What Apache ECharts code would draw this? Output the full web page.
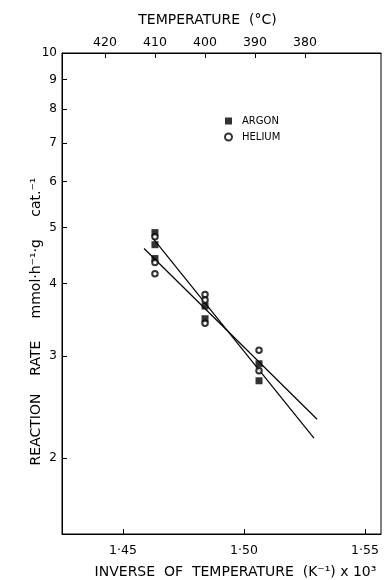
<!DOCTYPE html>
<html>
<head>
<meta charset="utf-8">
<script src="https://cdn.jsdelivr.net/npm/echarts@6/dist/echarts.min.js"></script>
<style>
  html, body { margin: 0; padding: 0; background: #fff; }
  #chart { width: 386px; height: 580px; }
</style>
</head>
<body>
<div id="chart"></div>
<script>
// inverse temperature (1/K x 10^3) and reaction rate
const argonX = [1.4632, 1.4632, 1.4632, 1.4839, 1.4839, 1.5062, 1.5062]
const argonRate = [4.90, 4.67, 4.42, 3.66, 3.48, 2.91, 2.72]
const heliumX = [1.4632, 1.4632, 1.4632, 1.4839, 1.4839, 1.4839, 1.5062, 1.5062]
const heliumRate = [4.82, 4.35, 4.16, 3.83, 3.75, 3.42, 3.07, 2.83]

// fitted lines (end points)
const argonFitX = [1.4624, 1.5289]
const argonFitRate = [4.79, 2.165]
const heliumFitX = [1.4587, 1.5302]
const heliumFitRate = [4.60, 2.335]

// tick labels
const invTempTicks = [1.45, 1.50, 1.55]
const tempTicks = [420, 410, 400, 390, 380]
const rateTicks = [2, 3, 4, 5, 6, 7, 8, 9, 10]

const font = 'DejaVu Sans'
const pairs = (xs, ys) => xs.map((x, i) => [x, ys[i]])

const chart = echarts.init(document.getElementById('chart'))

const option = {
  animation: false,
  textStyle: { fontFamily: font, color: '#000' },
  grid: {
    left: 62,
    right: 5,
    top: 53,
    bottom: 46,
    outerBoundsMode: 'none',
    show: true,
    borderColor: '#000',
    borderWidth: 1,
  },
  legend: {
    orient: 'vertical',
    left: 219,
    top: 111,
    itemWidth: 7,
    itemHeight: 7,
    itemGap: 6,
    textStyle: { fontFamily: font, fontSize: 10, color: '#000', padding: [0, 0, 0, 5] },
    data: [
      { name: 'ARGON', icon: 'rect' },
      { name: 'HELIUM', icon: 'emptyCircle' },
    ],
  },
  xAxis: [
    {
      type: 'value',
      min: 1.4248,
      max: 1.5566,
      name: 'INVERSE  OF  TEMPERATURE  (K⁻¹) x 10³',
      nameLocation: 'middle',
      nameGap: 31,
      nameTextStyle: { fontSize: 14, color: '#000', padding: [0, 0, 0, 28] },
      splitLine: { show: false },
      axisLine: { lineStyle: { color: '#000' } },
      axisTick: { inside: true, length: 5, customValues: invTempTicks, lineStyle: { color: '#000' } },
      axisLabel: {
        customValues: invTempTicks,
        fontSize: 12.5,
        color: '#000',
        margin: 10,
        formatter: (v) => v.toFixed(2).replace('.', '·'),
      },
    },
    {
      type: 'value',
      position: 'top',
      inverse: true,
      min: 364.8,
      max: 428.6,
      name: 'TEMPERATURE  (°C)',
      nameLocation: 'middle',
      nameGap: 26,
      nameTextStyle: { fontSize: 14, color: '#000', padding: [0, 28, 0, 0] },
      splitLine: { show: false },
      axisLine: { lineStyle: { color: '#000' } },
      axisTick: { inside: true, length: 5, customValues: tempTicks, lineStyle: { color: '#000' } },
      axisLabel: { customValues: tempTicks, fontSize: 12.5, color: '#000', margin: 4 },
    },
  ],
  yAxis: {
    type: 'log',
    logBase: 10,
    min: 1.48,
    max: 10,
    name: 'REACTION    RATE     mmol·h⁻¹·g     cat.⁻¹',
    nameLocation: 'middle',
    nameRotate: 90,
    nameGap: 19,
    nameMoveOverlap: false,
    nameTextStyle: { fontSize: 14, color: '#000', padding: [0, 56, 0, 0] },
    splitLine: { show: false },
    axisLine: { lineStyle: { color: '#000' } },
    axisTick: { inside: true, length: 5, customValues: rateTicks, lineStyle: { color: '#000' } },
    axisLabel: { customValues: rateTicks, fontSize: 12, color: '#000', margin: 5 },
  },
  series: [
    {
      name: 'ARGON',
      type: 'scatter',
      symbol: 'rect',
      symbolSize: 7,
      itemStyle: { color: '#000' },
      data: pairs(argonX, argonRate),
      z: 3,
    },
    {
      name: 'HELIUM',
      type: 'scatter',
      symbol: 'emptyCircle',
      symbolSize: 5.5,
      itemStyle: { color: '#000', borderColor: '#000', borderWidth: 1 },
      data: pairs(heliumX, heliumRate),
      z: 4,
    },
    {
      name: 'argon fit',
      type: 'line',
      showSymbol: false,
      lineStyle: { color: '#000', width: 1.2 },
      data: pairs(argonFitX, argonFitRate),
      z: 2,
    },
    {
      name: 'helium fit',
      type: 'line',
      showSymbol: false,
      lineStyle: { color: '#000', width: 1.2 },
      data: pairs(heliumFitX, heliumFitRate),
      z: 2,
    },
  ],
}

chart.setOption(option)
</script>
</body>
</html>
